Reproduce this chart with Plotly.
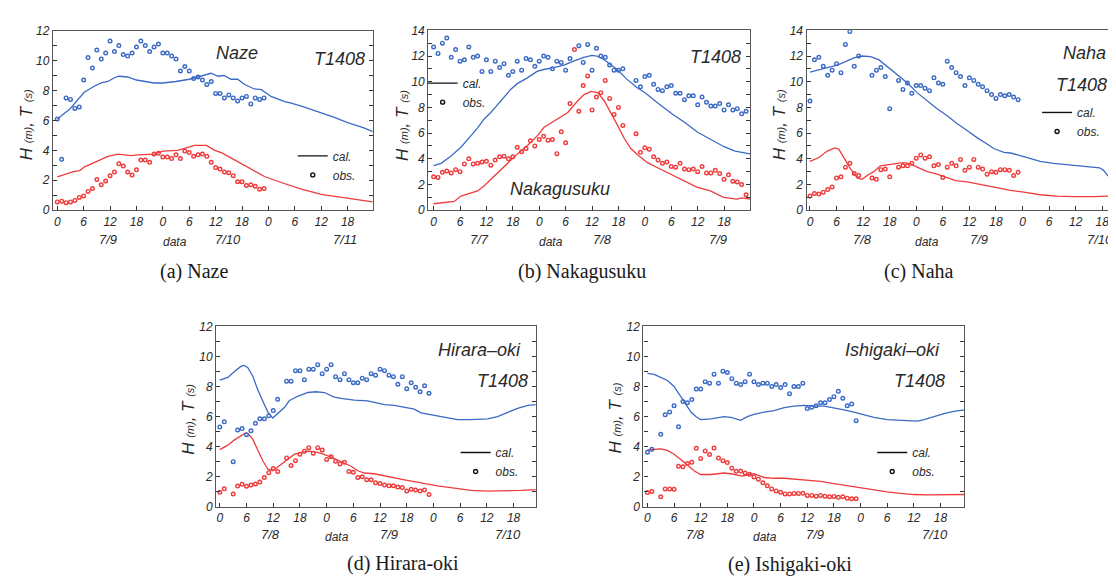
import plotly.graph_objects as go

FIG_W, FIG_H = 1116, 581
BLUE = "#3b6ac4"
RED = "#ef3b3b"
AXIS_COLOR = "#555555"
TEXT_COLOR = "#2a2a2a"

TICK_HOURS = [0, 6, 12, 18, 24, 30, 36, 42, 48, 54, 60, 66]
TICK_TEXT = ["0", "6", "12", "18", "0", "6", "12", "18", "0", "6", "12", "18"]

# ---------------- (a) Naze ----------------
NAZE_OBS_HOURS = list(range(48))
NAZE_OBS_T = [6.1, 3.4, 7.5, 7.4, 6.8, 6.9, 8.7, 10.2, 9.5, 10.7, 10.1, 10.5, 11.3, 10.6, 11.0, 10.4,
              10.3, 10.5, 10.9, 11.3, 11.0, 10.6, 10.9, 11.1, 10.5, 10.5, 10.3, 10.1, 9.3, 9.6, 9.3, 8.8,
              8.9, 8.7, 8.4, 8.6, 7.8, 7.8, 7.5, 7.7, 7.5, 7.3, 7.5, 7.6, 7.1, 7.5, 7.4, 7.5]
NAZE_OBS_H = [0.55, 0.6, 0.5, 0.55, 0.65, 0.85, 0.95, 1.25, 1.45, 2.05, 1.7, 1.95, 2.3, 2.55, 3.1, 2.95,
              2.55, 2.35, 2.7, 3.35, 3.35, 3.2, 3.75, 3.8, 3.55, 3.55, 3.45, 3.7, 3.45, 3.95, 3.85, 3.6,
              3.7, 3.75, 3.6, 3.2, 2.85, 2.75, 2.55, 2.5, 2.3, 1.9, 1.9, 1.65, 1.7, 1.6, 1.4, 1.45]
NAZE_CAL_T_HOURS = [0, 3, 5, 6.2, 8.5, 10, 11.5, 13, 14, 16, 18, 20, 22, 24, 27, 30, 33, 35, 36.5, 37.9,
                    39.5, 41, 42.6, 44.8, 46.4, 48.6, 51.7, 53.2, 56, 59, 63, 66, 69.7, 71.7]
NAZE_CAL_T = [6.1, 6.8, 7.5, 7.9, 8.3, 8.5, 8.6, 8.85, 8.95, 8.9, 8.7, 8.6, 8.5, 8.5, 8.6, 8.75, 9.0, 9.15,
              8.95, 9.0, 8.75, 8.75, 8.4, 8.1, 8.05, 7.6, 7.25, 7.15, 6.9, 6.62, 6.2, 5.85, 5.5, 5.25]
NAZE_CAL_H_HOURS = [0, 3.9, 5.1, 6.2, 8.5, 11.5, 13.8, 16, 16.8, 18.3, 22.1, 24, 27.4, 29.7, 31.2, 33.9,
                    35.8, 37.3, 38.8, 41.8, 44.8, 47.1, 50.9, 55.5, 60, 64.5, 71.7]
NAZE_CAL_H = [2.23, 2.6, 2.65, 2.9, 3.2, 3.6, 3.75, 3.7, 3.65, 3.7, 3.75, 3.95, 4.0, 4.2, 4.33, 4.33,
              4.0, 3.85, 3.6, 3.1, 2.65, 2.25, 1.85, 1.4, 1.05, 0.85, 0.55]

# ---------------- (b) Nakagusuku ----------------
NAKA_OBS_HOURS = list(range(72))
NAKA_OBS_T = [12.7, 12.2, 13.0, 13.4, 11.9, 12.5, 11.6, 11.7, 12.7, 11.9, 12.0, 10.8, 11.7, 10.8, 11.6, 11.1,
              11.4, 10.5, 10.8, 11.6, 10.9, 11.8, 11.7, 11.2, 11.6, 12.0, 11.9, 11.0, 11.6, 11.5, 10.9, 11.8,
              None, 12.8, 11.5, 12.9, 10.9, 12.6, 12.0, 11.9, 11.3, 10.9, 10.9, 11.0,
              None, None,
              10.1, 9.6, 10.4, 10.5, 9.8, 9.4, 9.3, 9.6, 9.7, 9.1, 9.1, 8.6, 8.9, 8.9, 8.2, 8.8,
              8.4, 8.1, 8.1, 8.3, 7.8, 8.2, 7.8, 7.9, 7.5, 7.7]
NAKA_OBS_H = [2.6, 2.55, 2.95, 3.05, 2.9, 3.15, 3.0, 3.6, 4.0, 3.6, 3.65, 3.75, 3.8, 3.5, 3.9, 4.15,
              4.2, 4.0, 4.15, 4.9, 4.55, 4.8, 5.4, 5.0, 5.5, 5.75, 5.45, 5.5, 4.4, 6.1, 5.25, 8.3,
              12.5, 7.7, 9.7, 10.45, 7.8, 8.8, 9.15, 10.1, 8.7, 7.45, 8.0, 6.6,
              None, None,
              5.95, 4.5, 4.85, 4.75, 4.15, 3.9, 3.65, 3.75, 3.4, 3.35, 3.65, 3.2, 3.15, 3.2, 3.0, 3.4,
              2.9, 2.9, 3.1, 2.85, 2.4, 2.75, 2.25, 2.2, 2.0, 1.2]
NAKA_CAL_T_HOURS = [0, 1.7, 3.9, 6.2, 8.5, 10, 11.5, 13, 14.5, 16, 17.5, 19, 21.3, 23.5, 25, 27.3, 29.6,
                    31.8, 34.1, 36, 37.1, 38.6, 40.2, 41.7, 43.9, 46.2, 48.2, 50.7, 54.3, 57, 60, 63, 66,
                    68.5, 70.3, 71.9]
NAKA_CAL_T = [3.47, 3.65, 4.2, 4.9, 5.8, 6.4, 7.1, 7.6, 8.2, 8.8, 9.4, 9.85, 10.3, 10.8, 10.95, 11.1, 11.3,
              11.6, 11.9, 12.05, 12.0, 11.75, 11.35, 10.95, 10.2, 9.55, 9.1, 8.4, 7.47, 6.85, 6.07, 5.5, 4.94,
              4.6, 4.5, 4.38]
NAKA_CAL_H_HOURS = [0, 4.7, 6.2, 10, 11.5, 13, 14.5, 16, 17.6, 19.1, 21.4, 23.6, 25.1, 26.7, 28.2, 30.5,
                    32.7, 34.2, 35.8, 37.3, 38.8, 40.3, 41.8, 43.3, 44.8, 46.4, 48.6, 50.9, 53.9, 56.9,
                    59.8, 62.9, 65.9, 68.9, 70.1, 71.9]
NAKA_CAL_H = [0.5, 0.68, 1.1, 1.5, 1.9, 2.4, 2.9, 3.4, 3.9, 4.4, 5.05, 5.8, 6.45, 6.8, 7.1, 7.6,
              8.5, 9.0, 9.25, 9.15, 8.5, 7.6, 6.6, 5.6, 4.8, 4.3, 3.7, 3.3, 2.8, 2.3,
              1.8, 1.5, 1.0, 0.86, 0.96, 0.86]

# ---------------- (c) Naha ----------------
NAHA_OBS_HOURS = list(range(48))
NAHA_OBS_T = [8.5, 11.7, 11.9, 11.2, 10.5, 10.9, 11.4, 10.7, 12.9, 13.9, 11.2, 12.0, None, None,
              10.5, 10.9, 11.1, 10.4, 7.9, None,
              10.1, 9.4, 9.9, 9.1, 9.7, 9.7, 9.5, 9.3, 10.3, 9.9, 9.8, 11.6, 11.1, 10.7, 10.4, 9.7,
              10.3, 10.1, 9.8, 9.6, 9.3, 9.0, 8.7, 9.0, 8.9, 9.0, 8.8, 8.6]
NAHA_OBS_H = [1.1, 1.3, 1.25, 1.4, 1.6, 1.8, 2.5, 2.6, 3.35, 3.65, 2.85, 2.7, None, None,
              2.5, 2.4, 3.15, 3.2, 2.6, None,
              3.35, 3.45, 3.45, 3.65, 4.05, 4.3, 4.05, 4.15, 3.45, 3.55, 2.55, 3.35, 3.65, 3.45, 3.95, 3.1,
              3.35, 3.95, 3.35, 3.2, 2.8, 3.0, 2.95, 3.15, 3.15, 3.1, 2.7, 2.95]
NAHA_CAL_T_HOURS = [0, 2, 3.9, 6.2, 8.4, 9.9, 11.8, 13.7, 15.6, 17.4, 19.7, 22, 24.2, 26.5, 28.7, 31, 33.2,
                    35.5, 37.7, 40, 41.5, 43.8, 45.3, 47.5, 49.8, 52, 55, 58, 61.1, 64.1, 65.4, 66.3, 67.4,
                    68.6, 70.7]
NAHA_CAL_T = [10.75, 10.9, 11.1, 11.3, 11.6, 11.85, 12.0, 11.95, 11.7, 11.2, 10.5, 9.9, 9.15, 8.5, 7.9,
              7.35, 6.75, 6.2, 5.65, 5.15, 4.8, 4.5, 4.45, 4.25, 4.0, 3.8, 3.65, 3.55, 3.45, 3.35, 3.3,
              3.1, 2.65, 2.55, 2.55]
NAHA_CAL_H_HOURS = [0, 2, 3.9, 5.6, 6.5, 7.7, 9.2, 10.7, 11.8, 12.9, 14.4, 15.9, 17.4, 19.7, 21.2, 22.7,
                    24.2, 26.5, 28.7, 31, 32.9, 35.5, 37.7, 40, 42.3, 45.3, 48.3, 52, 55.8, 59.5, 64,
                    67.1, 70.7]
NAHA_CAL_H = [3.8, 4.1, 4.6, 4.85, 4.75, 4.1, 3.2, 2.5, 2.4, 2.7, 3.0, 3.45, 3.55, 3.65, 3.7, 3.6,
              3.35, 3.0, 2.8, 2.55, 2.3, 2.2, 2.05, 1.9, 1.75, 1.55, 1.4, 1.2, 1.1, 1.05, 1.05, 1.1, 1.15]

# ---------------- (d) Hirara-oki ----------------
HIRARA_OBS_HOURS = list(range(48))
HIRARA_OBS_T = [5.3, 5.65, None, 3.0, 5.1, 5.2, 4.8, 5.05, 5.55, 5.85, 5.85, 6.05, 6.4, 7.15, None,
                8.35, 8.35, 9.05, 9.05, 8.45, 9.15, 9.15, 9.45, 8.85, 9.15, 9.45, 8.65, 8.45, 8.85, 8.45,
                8.25, 8.25, 8.55, 8.45, 8.85, 8.75, 9.15, 9.05, 8.75, 8.65, 8.15, 8.65, 7.85, 8.25, 7.95,
                7.65, 8.05, 7.55]
HIRARA_OBS_H = [0.97, 1.2, None, 0.85, 1.38, 1.5, 1.37, 1.45, 1.52, 1.65, 1.95, 2.27, 2.55, 2.35, None,
                3.25, 2.75, 3.07, 3.5, 3.7, 3.93, 3.57, 3.93, 3.78, 3.15, 3.33, 3.03, 2.85, 2.96, 2.35,
                2.3, 1.95, 2.0, 1.8, 1.8, 1.6, 1.55, 1.45, 1.4, 1.4, 1.32, 1.28, 1.05, 1.17, 1.12,
                1.05, 1.12, 0.82]
HIRARA_CAL_T_HOURS = [0, 1.8, 3.3, 4.8, 5.5, 6.3, 7.4, 8.5, 9.7, 10.8, 11.9, 13, 14.5, 15.6, 17.5, 19.8,
                      21.6, 23.5, 25.7, 27.6, 30.2, 33.2, 34.7, 37, 39.2, 41.5, 43.7, 45.2, 48.2, 50.4,
                      51.9, 53.4, 56.4, 60.2, 62.4, 64.7, 66.9, 69.2, 71]
HIRARA_CAL_T = [8.43, 8.6, 9.0, 9.35, 9.4, 9.25, 8.7, 7.8, 7.0, 6.3, 5.9, 6.2, 6.6, 7.05, 7.35, 7.6,
                7.65, 7.6, 7.3, 7.2, 7.1, 7.05, 6.95, 6.8, 6.75, 6.6, 6.5, 6.25, 6.1, 6.0,
                5.9, 5.8, 5.8, 5.85, 6.0, 6.3, 6.55, 6.75, 6.8]
HIRARA_CAL_H_HOURS = [0, 1.8, 3.3, 4.8, 5.7, 6.4, 7.4, 8.5, 9.7, 10.8, 11.9, 13, 14.5, 15.6, 16.8, 18.3,
                      19.8, 21.3, 22.8, 25, 27.2, 29.5, 31, 32.5, 34.7, 37, 39.2, 41.5, 45.2, 48.9, 52.7,
                      56.4, 60.2, 63.9, 67.7, 71]
HIRARA_CAL_H = [3.8, 4.1, 4.45, 4.7, 4.9, 4.85, 4.5, 3.8, 3.05, 2.5, 2.4, 2.65, 3.0, 3.2, 3.5, 3.6,
                3.7, 3.65, 3.55, 3.3, 3.0, 2.7, 2.4, 2.25, 2.2, 2.05, 1.95, 1.8, 1.6, 1.4, 1.25,
                1.1, 1.05, 1.05, 1.1, 1.15]

# ---------------- (e) Ishigaki-oki ----------------
ISHI_OBS_HOURS = list(range(48))
ISHI_OBS_T = [3.63, 3.83, None, 4.82, 6.12, 6.31, 6.72, 5.32, 7.0, 6.92, 7.13, 7.83, 7.83, 8.32, 8.22,
              8.82, 8.22, 9.02, 8.93, 8.52, 8.22, 8.13, 8.32, 8.82, 8.32, 8.13, 8.22, 8.22, 8.0, 8.13,
              7.93, 8.13, 7.52, 8.0, 8.0, 8.22, 6.53, 6.62, 6.72, 6.92, 6.92, 7.13, 7.32, 7.68, 7.22,
              6.72, 6.83, 5.73]
ISHI_OBS_H = [0.95, 1.02, None, 0.67, 1.19, 1.19, 1.17, 2.7, 2.66, 2.88, 2.96, 3.89, 3.22, 3.72, 3.48,
              3.91, 3.24, 3.07, 2.94, 2.57, 2.36, 2.38, 2.25, 2.16, 1.99, 1.84, 1.6, 1.4, 1.19, 1.06,
              0.97, 0.86, 0.86, 0.89, 0.89, 0.9, 0.76, 0.76, 0.71, 0.76, 0.71, 0.67, 0.69, 0.63, 0.67,
              0.58, 0.54, 0.54]
ISHI_CAL_T_HOURS = [0, 1.5, 3, 4.5, 6, 7.1, 8.3, 9.8, 10.9, 12, 14.3, 15.8, 17.3, 18.8, 19.9, 21, 22.5,
                    24, 26.3, 28.5, 30.8, 33, 35.3, 37.5, 39.8, 42, 44.3, 46.5, 48.8, 51, 54, 57, 60.8,
                    62.3, 64.5, 66.8, 69, 71.4]
ISHI_CAL_T = [8.87, 8.8, 8.6, 8.4, 8.0, 7.5, 6.9, 6.3, 6.0, 5.8, 5.85, 5.95, 6.0, 5.95, 5.85, 5.75, 6.0,
              6.15, 6.3, 6.4, 6.6, 6.7, 6.75, 6.7, 6.7, 6.6, 6.45, 6.3, 6.1, 5.95, 5.8, 5.75, 5.7,
              5.8, 6.0, 6.2, 6.35, 6.45]
ISHI_CAL_H_HOURS = [0, 1.5, 3, 4.5, 6, 7.5, 9, 10.5, 12, 14.3, 15.8, 17.3, 18.8, 20.3, 21.4, 22.9, 24,
                    26.3, 28.5, 30.8, 33, 36, 39, 42, 45, 48, 51, 54, 57, 60, 63, 66, 71.4]
ISHI_CAL_H = [3.78, 3.82, 3.85, 3.75, 3.5, 3.15, 2.8, 2.4, 2.15, 2.15, 2.2, 2.25, 2.2, 2.1, 2.05, 2.15, 2.2,
              1.95, 1.9, 1.9, 1.85, 1.8, 1.7, 1.55, 1.4, 1.25, 1.1, 1.0, 0.9, 0.82, 0.8, 0.8, 0.82]


def px(x):
    return x / FIG_W


def py(y):
    return 1 - y / FIG_H


PANELS = [
    dict(title="(a) Naze", title_xy=(186, 263), dom_x=(45, 365), dom_y=(16, 200), xr=(-0.98, 71.7), ymax=12,
         obs=(NAZE_OBS_HOURS, NAZE_OBS_T, NAZE_OBS_H),
         cal_t=(NAZE_CAL_T_HOURS, NAZE_CAL_T), cal_h=(NAZE_CAL_H_HOURS, NAZE_CAL_H),
         dates=[("7/9", 100), ("7/10", 220), ("7/11", 337)], data_x=167, date_y=230,
         ylab=(18, 112), legend=(285, 129.5),
         texts=[("Naze", 229, 39, "center"), ("T1408", 332, 45, "center")]),
    dict(title="(b) Nakagusuku", title_xy=(575, 263), dom_x=(420.7, 742.7), dom_y=(15.7, 200), xr=(-1.2, 71.9),
         ymax=14,
         obs=(NAKA_OBS_HOURS, NAKA_OBS_T, NAKA_OBS_H),
         cal_t=(NAKA_CAL_T_HOURS, NAKA_CAL_T), cal_h=(NAKA_CAL_H_HOURS, NAKA_CAL_H),
         dates=[("7/7", 471.7), ("7/8", 595), ("7/9", 710.7)], data_x=543, date_y=230,
         ylab=(395, 113), legend=(415, 55),
         texts=[("T1408", 708, 43, "center"), ("Nakagusuku", 552.5, 178, "center")]),
    dict(title="(c) Naha", title_xy=(912, 263), dom_x=(799.3, 1116), dom_y=(15.7, 200), xr=(-0.77, 70.7),
         ymax=14,
         obs=(NAHA_OBS_HOURS, NAHA_OBS_T, NAHA_OBS_H),
         cal_t=(NAHA_CAL_T_HOURS, NAHA_CAL_T), cal_h=(NAHA_CAL_H_HOURS, NAHA_CAL_H),
         dates=[("7/8", 855), ("7/9", 971.7), ("7/10", 1093)], data_x=920, date_y=230,
         ylab=(771.7, 113), legend=(1030, 85),
         texts=[("Naha", 1101, 39, "right"), ("T1408", 1102, 72, "right")]),
    dict(title="(d) Hirara-oki", title_xy=(395, 562), dom_x=(208.3, 528.3), dom_y=(319, 504), xr=(-0.83, 71.0),
         ymax=12,
         obs=(HIRARA_OBS_HOURS, HIRARA_OBS_T, HIRARA_OBS_H),
         cal_t=(HIRARA_CAL_T_HOURS, HIRARA_CAL_T), cal_h=(HIRARA_CAL_H_HOURS, HIRARA_CAL_H),
         dates=[("7/8", 263), ("7/9", 381.7), ("7/10", 500)], data_x=329, date_y=532,
         ylab=(180, 414), legend=(448, 433.5),
         texts=[("Hirara–oki", 471.5, 343, "center"), ("T1408", 495, 375, "center")]),
    dict(title="(e) Ishigaki-oki", title_xy=(783, 563), dom_x=(636, 957.3), dom_y=(319, 504), xr=(-0.9, 71.4),
         ymax=12,
         obs=(ISHI_OBS_HOURS, ISHI_OBS_T, ISHI_OBS_H),
         cal_t=(ISHI_CAL_T_HOURS, ISHI_CAL_T), cal_h=(ISHI_CAL_H_HOURS, ISHI_CAL_H),
         dates=[("7/8", 688), ("7/9", 808), ("7/10", 928)], data_x=757.7, date_y=532,
         ylab=(608, 413), legend=(865, 433.5),
         texts=[("Ishigaki–oki", 885, 343, "center"), ("T1408", 912.5, 375, "center")]),
]

SANS = "Liberation Sans"
SERIF = "Liberation Serif"

fig = go.Figure()
layout = dict(
    width=FIG_W, height=FIG_H, margin=dict(l=0, r=0, t=0, b=0),
    paper_bgcolor="white", plot_bgcolor="white", showlegend=True,
)
annotations = []

for i, p in enumerate(PANELS, start=1):
    sfx = "" if i == 1 else str(i)
    xa, ya = "x" + sfx, "y" + sfx
    leg = "legend" + sfx
    hours, t_obs, h_obs = p["obs"]

    # calculated lines
    fig.add_trace(go.Scatter(x=p["cal_t"][0], y=p["cal_t"][1], mode="lines", line=dict(color=BLUE, width=1.3),
                             xaxis=xa, yaxis=ya, showlegend=False, hoverinfo="skip"))
    fig.add_trace(go.Scatter(x=p["cal_h"][0], y=p["cal_h"][1], mode="lines", line=dict(color=RED, width=1.3),
                             xaxis=xa, yaxis=ya, showlegend=False, hoverinfo="skip"))
    # observed points
    fig.add_trace(go.Scatter(x=hours, y=t_obs, mode="markers",
                             marker=dict(symbol="circle-open", size=3.6, color=BLUE, line=dict(width=1.4, color=BLUE)),
                             xaxis=xa, yaxis=ya, showlegend=False, hoverinfo="skip"))
    fig.add_trace(go.Scatter(x=hours, y=h_obs, mode="markers",
                             marker=dict(symbol="circle-open", size=3.6, color=RED, line=dict(width=1.4, color=RED)),
                             xaxis=xa, yaxis=ya, showlegend=False, hoverinfo="skip"))
    # legend entries
    fig.add_trace(go.Scatter(x=[None], y=[None], mode="lines", name="cal.", line=dict(color="#111", width=1.4),
                             xaxis=xa, yaxis=ya, legend=leg, showlegend=True))
    fig.add_trace(go.Scatter(x=[None], y=[None], mode="markers", name="obs.",
                             marker=dict(symbol="circle-open", size=4, color="#111", line=dict(width=1.4, color="#111")),
                             xaxis=xa, yaxis=ya, legend=leg, showlegend=True))

    layout[leg] = dict(
        x=px(p["legend"][0]), y=py(p["legend"][1]), xanchor="left", yanchor="top",
        bgcolor="rgba(0,0,0,0)", borderwidth=0, itemwidth=30, tracegroupgap=0,
        font=dict(family=SANS, size=12, color=TEXT_COLOR, style="italic"),
    )

    layout["xaxis" + sfx] = dict(
        domain=[px(p["dom_x"][0]), px(p["dom_x"][1])], range=list(p["xr"]), anchor=ya,
        tickmode="array", tickvals=TICK_HOURS, ticktext=TICK_TEXT,
        ticks="inside", ticklen=4, tickwidth=1, tickcolor="#333",
        showline=True, linecolor=AXIS_COLOR, linewidth=1.3, mirror=True,
        showgrid=False, zeroline=False,
        tickfont=dict(family=SANS, size=12, color=TEXT_COLOR, style="italic"),
    )
    layout["yaxis" + sfx] = dict(
        domain=[py(p["dom_y"][1]), py(p["dom_y"][0])], range=[0, p["ymax"]], anchor=xa,
        tickmode="linear", tick0=0, dtick=2,
        ticks="inside", ticklen=4, tickwidth=1, tickcolor="#333",
        minor=dict(dtick=1, ticks="inside", ticklen=4, tickcolor="#333"),
        showline=True, linecolor=AXIS_COLOR, linewidth=1.3, mirror="ticks",
        showgrid=False, zeroline=False,
        tickfont=dict(family=SANS, size=12, color=TEXT_COLOR, style="italic"),
    )

    # panel title
    annotations.append(dict(text=p["title"], x=px(p["title_xy"][0]), y=py(p["title_xy"][1]),
                            xref="paper", yref="paper", xanchor="center", yanchor="middle", showarrow=False,
                            font=dict(family=SERIF, size=20, color="#1a1a1a")))
    # date labels
    for lab, xx in p["dates"]:
        annotations.append(dict(text=lab, x=px(xx), y=py(p["date_y"]), xref="paper", yref="paper",
                                xanchor="center", yanchor="middle", showarrow=False,
                                font=dict(family=SANS, size=13, color=TEXT_COLOR, style="italic")))
    annotations.append(dict(text="data", x=px(p["data_x"]), y=py(p["date_y"] + 3), xref="paper", yref="paper",
                            xanchor="center", yanchor="middle", showarrow=False,
                            font=dict(family=SANS, size=12, color=TEXT_COLOR, style="italic")))
    # y-axis label
    annotations.append(dict(text='H <span style="font-size:11px">(m)</span>, T <span style="font-size:11px">(s)</span>',
                            x=px(p["ylab"][0]), y=py(p["ylab"][1]), xref="paper", yref="paper",
                            xanchor="center", yanchor="middle", textangle=-90, showarrow=False,
                            font=dict(family=SANS, size=17, color=TEXT_COLOR, style="italic")))
    # in-plot texts
    for txt, xx, yy, anc in p["texts"]:
        annotations.append(dict(text=txt, x=px(xx), y=py(yy), xref="paper", yref="paper",
                                xanchor=anc, yanchor="middle", showarrow=False,
                                font=dict(family=SANS, size=18, color=TEXT_COLOR, style="italic")))

layout["annotations"] = annotations
fig.update_layout(**layout)
fig.write_html("out.html")
